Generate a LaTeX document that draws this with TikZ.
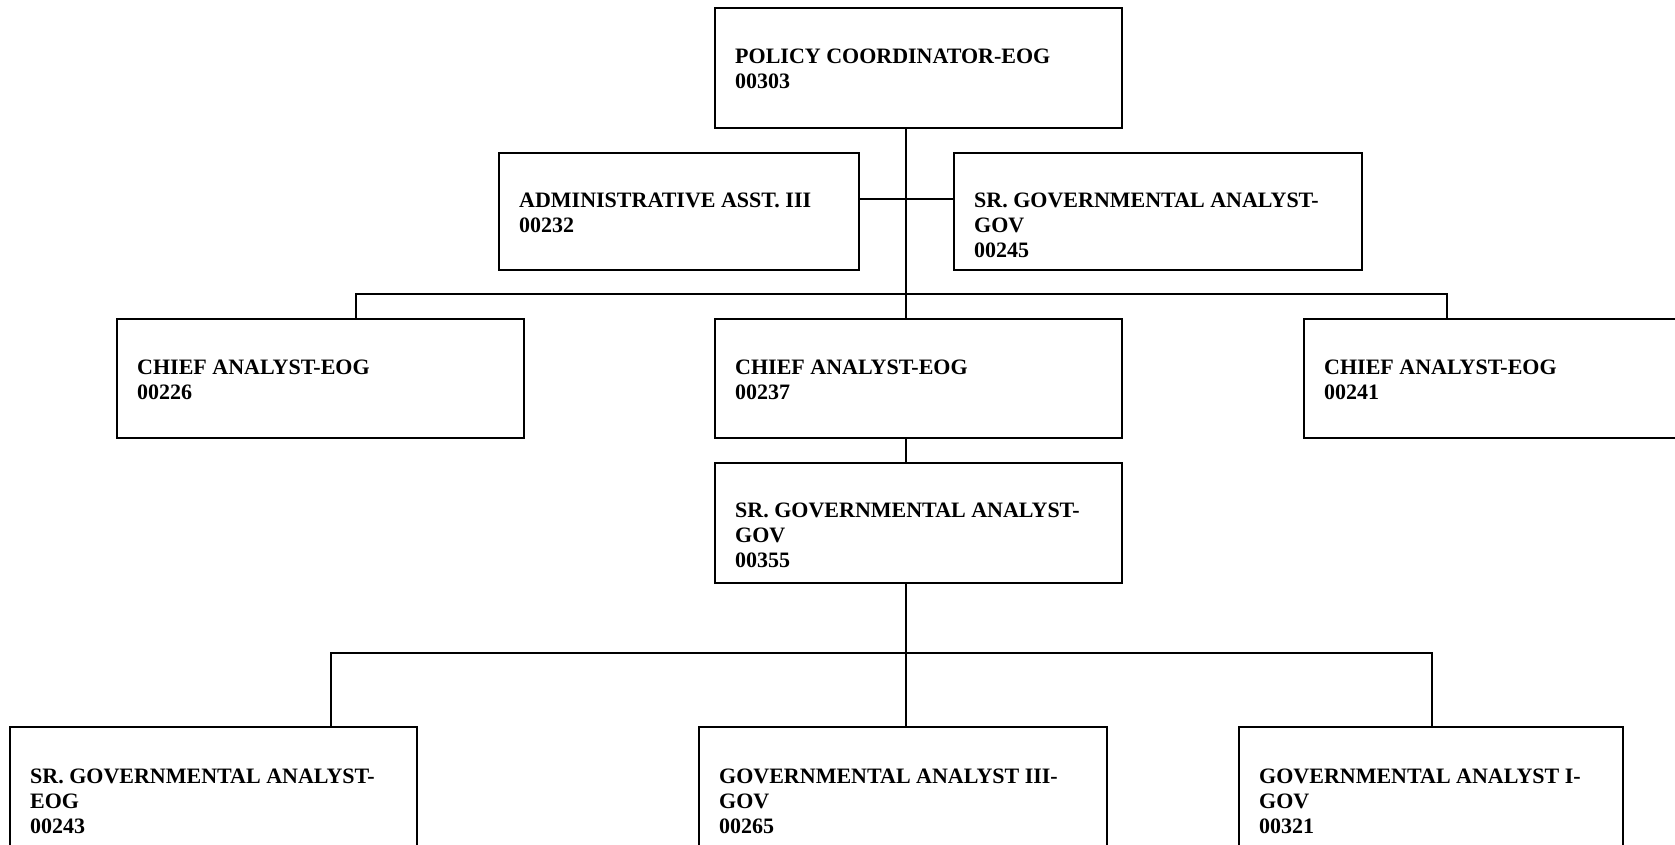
\documentclass[tikz,border=0pt]{standalone}
\usepackage{fontspec}
\setmainfont{Liberation Serif}
\usetikzlibrary{calc}
\begin{document}
\begin{tikzpicture}[x=1pt,y=-1pt,
  box/.style={draw, line width=2.2pt, rectangle, inner sep=0pt, anchor=north west},
  lbl/.style={font=\fontsize{22}{25.2}\selectfont\bfseries, align=left, inner sep=0pt, anchor=north west},
  wire/.style={line width=1.3pt}]
\useasboundingbox (0,0) rectangle (1675,845);
\clip (0,0) rectangle (1675,845);
% boxes
\node[box, minimum width=407pt, minimum height=120pt] (top) at (714,7) {};
\node[box, minimum width=360pt, minimum height=117pt] (adm) at (498,152) {};
\node[box, minimum width=408pt, minimum height=117pt] (s245) at (953,152) {};
\node[box, minimum width=407pt, minimum height=119pt] (c1) at (116,318) {};
\node[box, minimum width=407pt, minimum height=119pt] (c2) at (714,318) {};
\node[box, minimum width=407pt, minimum height=119pt] (c3) at (1303,318) {};
\node[box, minimum width=407pt, minimum height=120pt] (s355) at (714,462) {};
\node[box, minimum width=407pt, minimum height=125pt] (b1) at (9,726) {};
\node[box, minimum width=408pt, minimum height=125pt] (b2) at (698,726) {};
\node[box, minimum width=384pt, minimum height=125pt] (b3) at (1238,726) {};
% texts
\node[lbl] (ttop) at ($(top.north west)+(21,41.5)$) {POLICY COORDINATOR-EOG\\00303};
\node[lbl] (tadm) at ($(adm.north west)+(21,40.5)$) {ADMINISTRATIVE ASST. III\\00232};
\node[lbl] (t245) at ($(s245.north west)+(21,40.5)$) {SR. GOVERNMENTAL ANALYST-\\GOV\\00245};
\node[lbl] (tc1) at ($(c1.north west)+(21,41.5)$) {CHIEF ANALYST-EOG\\00226};
\node[lbl] (tc2) at ($(c2.north west)+(21,41.5)$) {CHIEF ANALYST-EOG\\00237};
\node[lbl] (tc3) at ($(c3.north west)+(21,41.5)$) {CHIEF ANALYST-EOG\\00241};
\node[lbl] (t355) at ($(s355.north west)+(21,40.5)$) {SR. GOVERNMENTAL ANALYST-\\GOV\\00355};
\node[lbl] (tb1) at ($(b1.north west)+(21,42.5)$) {SR. GOVERNMENTAL ANALYST-\\EOG\\00243};
\node[lbl] (tb2) at ($(b2.north west)+(21,42.5)$) {GOVERNMENTAL ANALYST III-\\GOV\\00265};
\node[lbl] (tb3) at ($(b3.north west)+(21,42.5)$) {GOVERNMENTAL ANALYST I-\\GOV\\00321};
% junctions
\coordinate (j1) at (906,199);
\coordinate (j2) at (906,294);
\coordinate (k1) at (356,294);
\coordinate (k3) at (1447,294);
\coordinate (m2) at (906,653);
\coordinate (m1) at (331,653);
\coordinate (m3) at (1432,653);
% connectors
\draw[wire] (j1 |- top.south) -- (j1 |- c2.north);
\draw[wire] (j1 -| adm.east) -- (j1 -| s245.west);
\draw[wire] (k1 |- c1.north) -- (k1) -- (k3) -- (k3 |- c3.north);
\draw[wire] (j1 |- c2.south) -- (j1 |- s355.north);
\draw[wire] (m2 |- s355.south) -- (m2 |- b2.north);
\draw[wire] (m1 |- b1.north) -- (m1) -- (m3) -- (m3 |- b3.north);
\end{tikzpicture}
\end{document}
